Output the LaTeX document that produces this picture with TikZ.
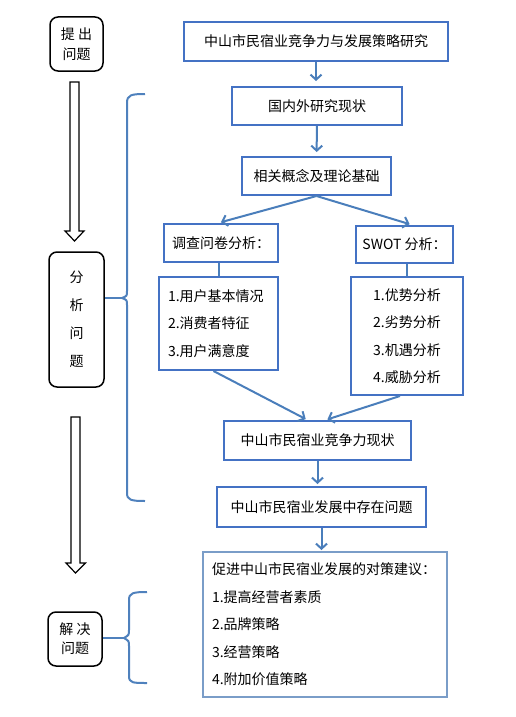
\documentclass[tikz,border=0pt]{standalone}
\usepackage{fontspec}
\setmainfont{Noto Sans CJK SC}
\usetikzlibrary{arrows.meta}
\usetikzlibrary{shapes}
\definecolor{boxblue}{RGB}{68,114,196}
\definecolor{arrowblue}{RGB}{74,126,187}
\definecolor{braceblue}{RGB}{79,129,189}
\definecolor{lastblue}{RGB}{122,157,200}

\begin{document}
\begin{tikzpicture}[x=1pt,y=-1pt,
	box/.style={draw=boxblue, line width=2pt, inner sep=0pt, font=\fontsize{14}{17}\selectfont},
	listbox/.style={draw=boxblue, line width=2pt, inner ysep=0pt, align=left, font=\fontsize{14}{27.5}\selectfont},
	stagebox/.style={draw=black, line width=1.5pt, rounded corners=8pt, inner sep=0pt, align=center},
	arr/.style={draw=arrowblue, line width=2pt, -{Straight Barb[length=5pt,width=11pt]}},
	link/.style={draw=arrowblue, line width=2pt},
	brace/.style={draw=braceblue, line width=2pt},
	bigarrow/.style={draw=black, line width=1.2pt}]
	\useasboundingbox (0,0) rectangle (516,717);

	% stages on the left
	\node[stagebox, minimum width=53, minimum height=54, font=\fontsize{14}{20}\selectfont]
		(tcwt) at (76.5,44) {提 出\\问题};
	\node[stagebox, minimum width=55, minimum height=135, font=\fontsize{14}{28}\selectfont]
		(fxwt) at (76.5,319.5) {分\\析\\问\\题};
	\node[stagebox, minimum width=54, minimum height=54, font=\fontsize{14}{19}\selectfont]
		(jjwt) at (75,639) {解 决\\问题};

	\draw[bigarrow]
		(70,82) -- (79,82) -- (79,231) -- (84,231) -- (74.5,241) -- (65,231) -- (70,231) -- cycle;
	\draw[bigarrow]
		(71,417) -- (80,417) -- (80,563) -- (85.5,563) -- (75.5,573) -- (66,563) -- (71,563) -- cycle;

	% main column
	\node[box, minimum width=264, minimum height=39] (yj) at (316,41.5) {中山市民宿业竞争力与发展策略研究};
	\node[box, minimum width=170, minimum height=38] (gnw) at (317,106) {国内外研究现状};
	\node[box, minimum width=149, minimum height=38] (jc) at (316.5,176) {相关概念及理论基础};
	\node[box, minimum width=114, minimum height=38] (dc) at (221,243) {调查问卷分析：};
	\node[box, minimum width=97, minimum height=37] (swot) at (404.5,244.5) {SWOT 分析：};
	\node[listbox, minimum height=93, inner xsep=9pt, text width=101pt] (yh) at (218.5,323.5)
		{1.用户基本情况\\2.消费者特征\\3.用户满意度};
	\node[listbox, minimum width=112, minimum height=118, inner xsep=0pt] (fx) at (407,336)
		{1.优势分析\\2.劣势分析\\3.机遇分析\\4.威胁分析};
	\node[box, minimum width=187, minimum height=39] (xz) at (317.5,440.5) {中山市民宿业竞争力现状};
	\node[box, minimum width=209, minimum height=40] (wt) at (321.5,507) {中山市民宿业发展中存在问题};
	\node[listbox, draw=lastblue, minimum height=145, inner xsep=9pt, text width=226pt] (jy) at (325,624.5)
		{促进中山市民宿业发展的对策建议：\\1.提高经营者素质\\2.品牌策略\\3.经营策略\\4.附加价值策略};

	\draw[arr, shorten >=5pt] (yj.south) -- (gnw.north -| yj.south);
	\draw[arr, shorten >=4pt] (gnw) -- (jc);
	\draw[arr, shorten >=3pt] (jc.south) -- ([xshift=-3pt]dc.north);
	\draw[arr, shorten >=3pt] (jc.south) -- ([xshift=8pt]swot.north);
	\draw[link] (yh.north |- dc.south) -- (yh.north);
	\draw[link] (fx.north |- swot.south) -- (fx.north);
	\draw[arr, shorten >=2pt] ([xshift=-5pt]yh.south) -- ([xshift=-10pt]xz.north);
	\draw[arr, shorten >=2pt] ([xshift=-7pt]fx.south) -- ([xshift=8pt]xz.north);
	\draw[arr, shorten >=2pt] (xz.south) -- (wt.north -| xz.south);
	\draw[arr, shorten >=1pt] (wt.south) -- (jy.north -| wt.south);

	% braces
	\coordinate (b1) at (122,298);
	\coordinate (b2) at (124,638);
	\draw[brace]
		(145,94) .. controls (131,94) and (127,95) .. (127,103) -- (127,291)
		.. controls (127,296) .. (b1) .. controls (127,300) .. (127,305) -- (127,493)
		.. controls (127,500) and (131,501) .. (145,501);
	\draw[brace] (fxwt.east |- b1) -- (b1);
	\draw[brace]
		(147,592) .. controls (133,592) and (129,593) .. (129,600) -- (129,630)
		.. controls (129,635) .. (b2) .. controls (129,641) .. (129,646) -- (129,676)
		.. controls (129,683) and (133,683) .. (147,683);
	\draw[brace] (jjwt.east |- b2) -- (b2);

\end{tikzpicture}
\end{document}
